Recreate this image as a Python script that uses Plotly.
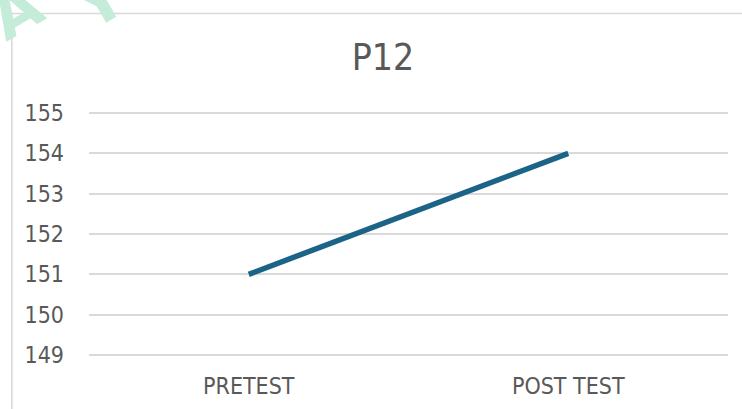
import plotly.graph_objects as go

categories = ["PRETEST", "POST TEST"]
values = [151, 154]
y_ticks = [149, 150, 151, 152, 153, 154, 155]
y_range = [148.9, 155.1]
title_text = "P12"

W, H = 742, 409
L, R = 89, 14
# pixel rows of y=155 and y=149 in the reference
Y_TOP_PX, Y_BOT_PX = 113.3, 354.5
unit = (Y_BOT_PX - Y_TOP_PX) / (y_ticks[-1] - y_ticks[0])
T = Y_TOP_PX - (y_range[1] - y_ticks[-1]) * unit
B = H - (Y_BOT_PX + (y_ticks[0] - y_range[0]) * unit)
pw = W - L - R
ph = H - T - B

def px_x(px):
    return (px - L) / pw

def px_y(py):
    return 1 - (py - T) / ph

FONT = "Liberation Sans Narrow, DejaVu Sans Condensed, Arial Narrow, sans-serif"

fig = go.Figure()
fig.add_trace(go.Scatter(
    x=categories, y=values, mode="lines",
    line=dict(color="#1b6488", width=5.5),
    hoverinfo="skip", showlegend=False,
))

fig.update_layout(
    width=W, height=H,
    margin=dict(l=L, r=R, t=T, b=B, pad=0, autoexpand=False),
    paper_bgcolor="white", plot_bgcolor="white",
    title=dict(text=title_text, x=383 / W, xref="container", xanchor="center",
               y=1 - 57 / H, yref="container", yanchor="middle",
               font=dict(family=FONT, size=37, color="#595959")),
    xaxis=dict(range=[-0.5, 1.5], showgrid=False, zeroline=False, showline=False, ticks="",
               tickfont=dict(family=FONT, size=23, color="#595959"),
               ticklabelstandoff=11, fixedrange=True, automargin=False),
    yaxis=dict(range=y_range, tickvals=y_ticks, showgrid=True,
               gridcolor="#d9d9d9", gridwidth=2, zeroline=False, showline=False,
               ticks="", tickfont=dict(family=FONT, size=23, color="#595959"),
               ticklabelstandoff=24, fixedrange=True, automargin=False),
    shapes=[
        dict(type="line", xref="paper", yref="paper",
             x0=px_x(11.8), x1=px_x(11.8), y0=px_y(14), y1=px_y(420),
             line=dict(color="#d9d9d9", width=1.6)),
        dict(type="line", xref="paper", yref="paper",
             x0=px_x(11.8), x1=px_x(760), y0=px_y(14), y1=px_y(14),
             line=dict(color="#d9d9d9", width=1.6)),
    ],
    annotations=[
        dict(text="<b>A</b>", xref="paper", yref="paper", x=px_x(16), y=px_y(12),
             showarrow=False, textangle=-30, xanchor="center", yanchor="middle",
             font=dict(family="DejaVu Sans", size=62, color="#c4ecd8")),
        dict(text="<b>Y</b>", xref="paper", yref="paper", x=px_x(100), y=px_y(2),
             showarrow=False, textangle=-30, xanchor="center", yanchor="middle",
             font=dict(family="DejaVu Sans", size=62, color="#c4ecd8")),
    ],
)

fig.write_html("out.html", config={"displayModeBar": False},
               post_script="document.body.style.margin='0';")
